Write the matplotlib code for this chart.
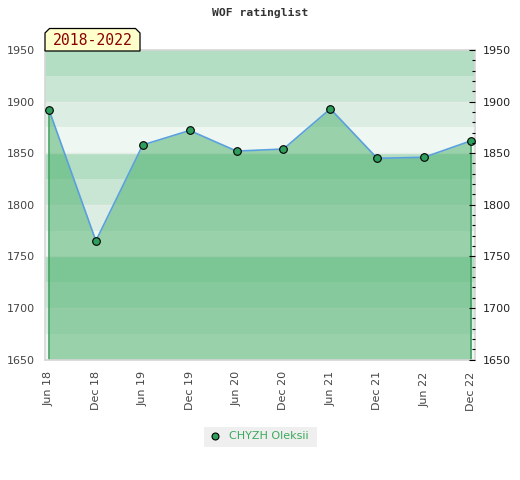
import matplotlib
matplotlib.use("Agg")
import matplotlib.pyplot as plt
from matplotlib.patches import Polygon, Rectangle
from matplotlib.ticker import MultipleLocator
import numpy as np

# ---- data ----
periods = ["Jun 18", "Dec 18", "Jun 19", "Dec 19", "Jun 20",
           "Dec 20", "Jun 21", "Dec 21", "Jun 22", "Dec 22"]
ratings = [1892, 1765, 1858, 1872, 1852, 1854, 1893, 1845, 1846, 1862]
player = "CHYZH Oleksii"
title = "WOF ratinglist"
range_label = "2018-2022"
y_min, y_max = 1650, 1950

band_colors = ["#b3dec3", "#c8e6d3", "#dceee3", "#eef7f1"]

W, H = 520, 480
fig = plt.figure(figsize=(W / 100, H / 100), dpi=100)
fig.patch.set_facecolor("white")

def fx(px):
    return px / W

def fy(py):
    return 1 - py / H

ax_l, ax_r, ax_t, ax_b = 45, 475, 50, 359.5
ax = fig.add_axes([fx(ax_l), fy(ax_b), fx(ax_r - ax_l), (ax_b - ax_t) / H])

x = np.arange(len(periods))
step = (471 - 49) / (len(periods) - 1)
ax.set_xlim(-(49 - ax_l) / step, (len(periods) - 1) + (ax_r - 471) / step)
ax.set_ylim(y_min, y_max)

# background bands
for i, top in enumerate(range(y_max, y_min, -25)):
    ax.axhspan(top - 25, top, color=band_colors[i % 4], lw=0, zorder=0)

for v in range(y_min + 50, y_max, 50):
    ax.axhline(v, color="#e4ece6", lw=1, zorder=0.5)

fill_rgb = (70 / 255, 173 / 255, 103 / 255)
ax.fill_between(x, ratings, y_min, color=fill_rgb, alpha=0.5, lw=0, zorder=1)
ax.vlines([x[0], x[-1]], y_min, [ratings[0], ratings[-1]], color="#3a9c5a", lw=1.1, zorder=2)
ax.plot(x, ratings, color="#5aa0dc", lw=1.2, zorder=3)
ax.plot(x, ratings, ls="none", marker="o", ms=5.5, mfc="#2e9e5c", mec="black", mew=0.8, zorder=4)

for s in ax.spines.values():
    s.set_color("#d6d6d6")
    s.set_linewidth(1.2)

ax.set_xticks(x)
ax.set_xticklabels(periods, rotation=90, fontsize=8, color="#444444", va="top", ha="center")
ax.tick_params(axis="x", length=0, pad=8.5)
ax.set_yticks(range(y_min, y_max + 1, 50))
ax.tick_params(axis="y", length=0, pad=7.2, labelsize=8, labelcolor="#444444")

ax2 = ax.twinx()
ax2.set_ylim(y_min, y_max)
ax2.set_yticks(range(y_min, y_max + 1, 50))
ax2.yaxis.set_minor_locator(MultipleLocator(10))
ax2.tick_params(axis="y", which="major", direction="in", length=4, width=0.8, color="black",
                pad=5.8, labelsize=8, labelcolor="#222222")
ax2.tick_params(axis="y", which="minor", direction="in", length=2.5, width=0.8, color="black")
for s in ax2.spines.values():
    s.set_visible(False)

# title
fig.text(fx(260), fy(13), title, ha="center", va="center", fontsize=8.2,
         family="DejaVu Sans Mono", fontweight="bold", color="#333333")

# range label box with chamfered top corners
bl, br, bt, bb, c = 45, 140, 28.5, 51, 4.5
pts = [(bl, bb), (bl, bt + c), (bl + c, bt), (br - c, bt), (br, bt + c), (br, bb)]
poly = Polygon([(fx(px), fy(py)) for px, py in pts], closed=True, transform=fig.transFigure,
               facecolor="#ffffcc", edgecolor="black", lw=0.9, zorder=10)
fig.patches.append(poly)
fig.text(fx(92.5), fy(40.5), range_label, ha="center", va="center", fontsize=10.6,
         family="DejaVu Sans Mono", color="#8b0000", zorder=11)

# legend
leg = Rectangle((fx(204), fy(447)), fx(317 - 204), (447 - 427) / H, transform=fig.transFigure,
                facecolor="#efefef", edgecolor="none", zorder=5)
fig.patches.append(leg)
fig.lines.append(plt.Line2D([fx(215)], [fy(436)], transform=fig.transFigure, marker="o", ms=5,
                            mfc="#2e9e5c", mec="black", mew=0.8, ls="none", zorder=6))
fig.text(fx(229), fy(436), player, ha="left", va="center", fontsize=8, color="#3aaa5c", zorder=6)

fig.savefig("out.png", dpi=100)
